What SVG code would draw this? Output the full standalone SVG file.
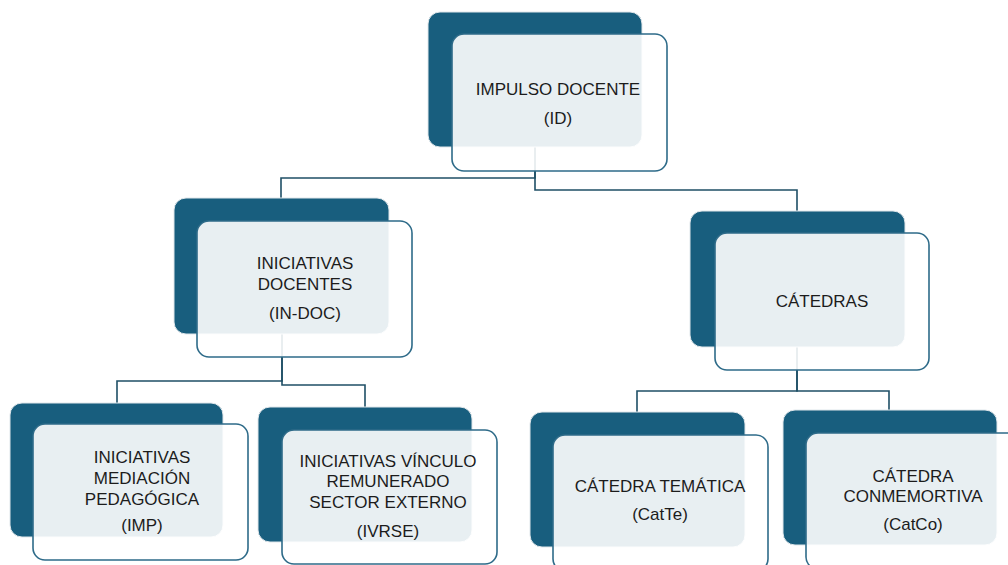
<svg xmlns="http://www.w3.org/2000/svg" width="1008" height="565" viewBox="0 0 1008 565">
<style>
.back{fill:#185e7e;stroke:#dfe6ea;stroke-width:1}
.front{fill:#ffffff;fill-opacity:0.9;stroke:#2e6b89;stroke-width:1.6}
.lbl{font-family:"Liberation Sans",Arial,sans-serif;font-size:17px;fill:#1c1c1c;text-anchor:middle}
.conn{fill:none;stroke:#1f4f66;stroke-width:1.6}
</style>
<rect width="1008" height="565" fill="#ffffff"/>
<g id="connectors">
<path class="conn" d="M535,147 V178 H281 V198"/>
<path class="conn" d="M535,147 V190 H797 V211"/>
<path class="conn" d="M282,334 V381 H117 V403"/>
<path class="conn" d="M282,334 V385 H365 V407"/>
<path class="conn" d="M797,347 V391 H637 V412"/>
<path class="conn" d="M797,347 V391 H889 V410"/>
</g>
<g id="node-id">
<rect class="back" x="428" y="12" width="214" height="135" rx="12"/>
<rect class="front" x="452" y="34" width="215" height="137" rx="12"/>
<text class="lbl" x="558" y="95">IMPULSO DOCENTE</text>
<text class="lbl" x="558" y="124">(ID)</text>
</g>
<g id="node-indoc">
<rect class="back" x="174" y="198" width="215" height="136" rx="12"/>
<rect class="front" x="197" y="221" width="215" height="136" rx="12"/>
<text class="lbl" x="305" y="269">INICIATIVAS</text>
<text class="lbl" x="305" y="290">DOCENTES</text>
<text class="lbl" x="305" y="319">(IN-DOC)</text>
</g>
<g id="node-catedras">
<rect class="back" x="690" y="211" width="215" height="136" rx="12"/>
<rect class="front" x="715" y="233" width="214" height="137" rx="12"/>
<text class="lbl" x="822" y="307">CÁTEDRAS</text>
</g>
<g id="node-imp">
<rect class="back" x="10" y="403" width="213" height="134" rx="12"/>
<rect class="front" x="33" y="424" width="215" height="136" rx="12"/>
<text class="lbl" x="142" y="463">INICIATIVAS</text>
<text class="lbl" x="142" y="484">MEDIACIÓN</text>
<text class="lbl" x="142" y="505">PEDAGÓGICA</text>
<text class="lbl" x="142" y="531">(IMP)</text>
</g>
<g id="node-ivrse">
<rect class="back" x="258" y="407" width="214" height="135" rx="12"/>
<rect class="front" x="282" y="430" width="215" height="134" rx="12"/>
<text class="lbl" x="388" y="467">INICIATIVAS VÍNCULO</text>
<text class="lbl" x="388" y="487">REMUNERADO</text>
<text class="lbl" x="388" y="508">SECTOR EXTERNO</text>
<text class="lbl" x="388" y="537">(IVRSE)</text>
</g>
<g id="node-catte">
<rect class="back" x="530" y="412" width="215" height="135" rx="12"/>
<rect class="front" x="553" y="435" width="215" height="136" rx="12"/>
<text class="lbl" x="660" y="492">CÁTEDRA TEMÁTICA</text>
<text class="lbl" x="660" y="520">(CatTe)</text>
</g>
<g id="node-catco">
<rect class="back" x="783" y="410" width="214" height="135" rx="12"/>
<rect class="front" x="806" y="433" width="215" height="136" rx="12"/>
<text class="lbl" x="913" y="482">CÁTEDRA</text>
<text class="lbl" x="913" y="502">CONMEMORTIVA</text>
<text class="lbl" x="913" y="530">(CatCo)</text>
</g>
</svg>
